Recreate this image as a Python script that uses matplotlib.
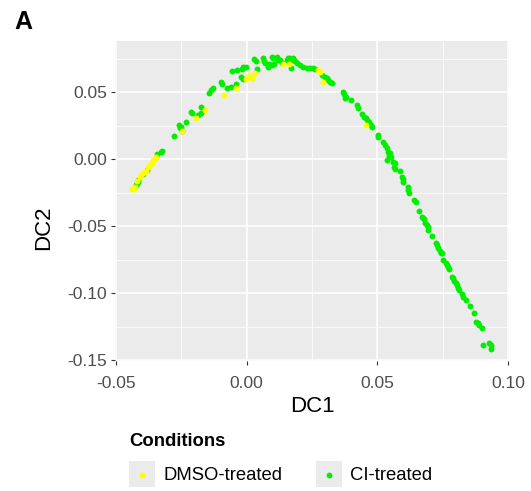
import matplotlib
matplotlib.use("Agg")
import matplotlib.pyplot as plt
from matplotlib.patches import Rectangle
from matplotlib.lines import Line2D

plt.rcParams['font.family'] = ['Liberation Sans', 'DejaVu Sans']

# ---- data ----
ci_dc1 = [-0.0278, -0.0248, -0.0325, -0.0329, -0.0344, -0.0382, -0.0398, -0.0414, -0.0420, -0.0423, -0.0414,
          -0.0255, -0.0259, -0.0252, -0.0233, -0.0213, -0.0210, -0.0185, -0.0176, -0.0174, -0.0143, -0.0138,
          -0.0130, -0.0098, -0.0096, -0.0076, -0.0061, -0.0041, -0.0057, -0.0036, -0.0019, -0.0013, -0.0004,
          -0.0022, -0.0013, 0.0041, 0.0028, 0.0034, 0.0063, 0.0066, 0.0070, 0.0083, 0.0086, 0.0096, 0.0102,
          0.0115, 0.0121, 0.0096, 0.0104, 0.0127, 0.0134, 0.0153, 0.0159, 0.0166, 0.0172, 0.0178, 0.0185,
          0.0191, 0.0168, 0.0204, 0.0216, 0.0229, 0.0242, 0.0252, 0.0261, 0.0287, 0.0299, 0.0306, 0.0312,
          0.0318, 0.0325,
          0.0367, 0.0372, 0.0378, 0.0376, 0.0398, 0.0420, 0.0427, 0.0442, 0.0450, 0.0456, 0.0461, 0.0469,
          0.0474, 0.0478, 0.0503, 0.0501, 0.0522, 0.0529, 0.0535, 0.0541, 0.0548, 0.0545, 0.0550, 0.0537,
          0.0560, 0.0567, 0.0564, 0.0567, 0.0586, 0.0595, 0.0599, 0.0599, 0.0615, 0.0618, 0.0622, 0.0640,
          0.0647, 0.0660, 0.0669, 0.0675, 0.0678, 0.0682, 0.0688, 0.0694, 0.0694, 0.0707, 0.0722, 0.0729,
          0.0732, 0.0739, 0.0742, 0.0748, 0.0752, 0.0762, 0.0767, 0.0771, 0.0774, 0.0784, 0.0790, 0.0794,
          0.0800, 0.0803, 0.0809, 0.0813, 0.0822, 0.0828, 0.0837, 0.0854, 0.0869, 0.0877, 0.0885, 0.0889,
          0.0898, 0.0904, 0.0927, 0.0933, 0.0935]
ci_dc2 = [0.0178, 0.0215, 0.0063, 0.0054, 0.0041, -0.0078, -0.0110, -0.0153, -0.0173, -0.0190, -0.0166,
          0.0233, 0.0257, 0.0245, 0.0282, 0.0357, 0.0345, 0.0334, 0.0349, 0.0394, 0.0494, 0.0519,
          0.0536, 0.0581, 0.0563, 0.0534, 0.0541, 0.0563, 0.0663, 0.0668, 0.0675, 0.0693, 0.0693,
          0.0613, 0.0599, 0.0675, 0.0748, 0.0735, 0.0755, 0.0737, 0.0718, 0.0693, 0.0710, 0.0767, 0.0755,
          0.0767, 0.0743, 0.0705, 0.0710, 0.0743, 0.0718, 0.0743, 0.0755, 0.0760, 0.0743, 0.0755, 0.0735,
          0.0718, 0.0681, 0.0705, 0.0693, 0.0685, 0.0681, 0.0685, 0.0675, 0.0631, 0.0618, 0.0606, 0.0593,
          0.0581, 0.0569,
          0.0506, 0.0489, 0.0469, 0.0457, 0.0444, 0.0407, 0.0382, 0.0340, 0.0319, 0.0307, 0.0295, 0.0282,
          0.0257, 0.0245, 0.0183, 0.0166, 0.0133, 0.0108, 0.0084, 0.0058, 0.0046, 0.0026, 0.0021, -0.0004,
          -0.0016, -0.0028, -0.0054, -0.0073, -0.0086, -0.0128, -0.0148, -0.0166, -0.0207, -0.0228, -0.0248, -0.0302,
          -0.0319, -0.0384, -0.0431, -0.0439, -0.0446, -0.0476, -0.0489, -0.0501, -0.0526, -0.0569, -0.0625, -0.0638,
          -0.0663, -0.0681, -0.0696, -0.0700, -0.0750, -0.0770, -0.0787, -0.0804, -0.0819, -0.0875, -0.0887, -0.0904,
          -0.0919, -0.0937, -0.0961, -0.0974, -0.1004, -0.1024, -0.1049, -0.1093, -0.1143, -0.1210, -0.1218, -0.1235,
          -0.1260, -0.1384, -0.1372, -0.1384, -0.1414]

dmso_dc1 = [-0.0357, -0.0363, -0.0370, -0.0376, -0.0385, -0.0395, -0.0408, -0.0427, -0.0433, -0.0440,
            -0.0347, -0.0352, -0.0391, -0.0403, -0.0418, -0.0430,
            -0.0246, -0.0195, -0.0161, -0.0086, -0.0042, -0.0003, 0.0010, 0.0019, 0.0033, 0.0140,
            0.0162, 0.0274, 0.0280, 0.0293, 0.0456]
dmso_dc2 = [-0.0004, -0.0024, -0.0041, -0.0058, -0.0084, -0.0103, -0.0128, -0.0203, -0.0222, -0.0222,
            0.0021, 0.0007, -0.0093, -0.0116, -0.0160, -0.0209,
            0.0213, 0.0307, 0.0372, 0.0485, 0.0531, 0.0599, 0.0631, 0.0606, 0.0643, 0.0713,
            0.0710, 0.0668, 0.0651, 0.0581, 0.0257]

x_ticks = [-0.05, 0.00, 0.05, 0.10]
x_tick_labels = ['-0.05', '0.00', '0.05', '0.10']
y_ticks = [-0.15, -0.10, -0.05, 0.00, 0.05]
y_tick_labels = ['-0.15', '-0.10', '-0.05', '0.00', '0.05']
conditions = ['DMSO-treated', 'CI-treated']
colors = ['#FFFF00', '#00EE00']

# ---- figure ----
W, H = 531, 491
fig = plt.figure(figsize=(W / 100, H / 100), dpi=100)

def fx(px):
    return px / W

def fy(py):
    return 1 - py / H

ax = fig.add_axes([fx(115), fy(360.7), fx(509) - fx(115), fy(41) - fy(360.7)])
ax.set_facecolor('#EBEBEB')
ax.set_xlim(-0.05034, 0.10027)
ax.set_ylim(-0.15015, 0.08843)

ax.set_xticks(x_ticks)
ax.set_xticklabels(x_tick_labels)
ax.set_yticks(y_ticks)
ax.set_yticklabels(y_tick_labels)
ax.set_xticks([-0.025, 0.025, 0.075], minor=True)
ax.set_yticks([-0.125, -0.075, -0.025, 0.025, 0.075], minor=True)
ax.grid(which='major', color='white', linewidth=1.1)
ax.grid(which='minor', color='white', linewidth=0.55)
ax.set_axisbelow(True)
for s in ax.spines.values():
    s.set_visible(False)
ax.tick_params(which='major', length=3, width=0.8, color='#333333', labelsize=12.6,
               labelcolor='#4D4D4D')
ax.tick_params(axis='y', which='major', pad=2.5)
ax.tick_params(axis='x', which='major', pad=8.3)
ax.tick_params(which='minor', length=0)

ax.scatter(ci_dc1, ci_dc2, s=18, color=colors[1], linewidths=0, zorder=3)
ax.scatter(dmso_dc1, dmso_dc2, s=18, color=colors[0], linewidths=0, zorder=3)

ax.set_xlabel('DC1', fontsize=16, color='black', labelpad=3)
ax.set_ylabel('DC2', fontsize=16, color='black')
ax.yaxis.set_label_coords((54 - 115) / 394, (360.7 - 228) / 319.7)

# panel tag
fig.text(fx(14), fy(22), 'A', fontsize=18, fontweight='bold', ha='left', va='center')

# legend (manual, ggplot style)
fig.text(fx(129), fy(441.5), 'Conditions', fontsize=13.3, fontweight='bold', ha='left', va='center')
key_x = [129.3, 316.2]
for kx, lab, col in zip(key_x, conditions, colors):
    fig.add_artist(Rectangle((fx(kx), fy(487.3)), fx(26), 26 / H, transform=fig.transFigure,
                             facecolor='#EBEBEB', edgecolor='none'))
    fig.add_artist(Line2D([fx(kx + 13)], [fy(474.5)], transform=fig.transFigure, marker='o',
                          markersize=4.2, color=col, markeredgewidth=0, linestyle='none'))
    fig.text(fx(kx + 34), fy(475), lab, fontsize=13.3, ha='left', va='center', color='black')

fig.savefig('out.png', dpi=100)
